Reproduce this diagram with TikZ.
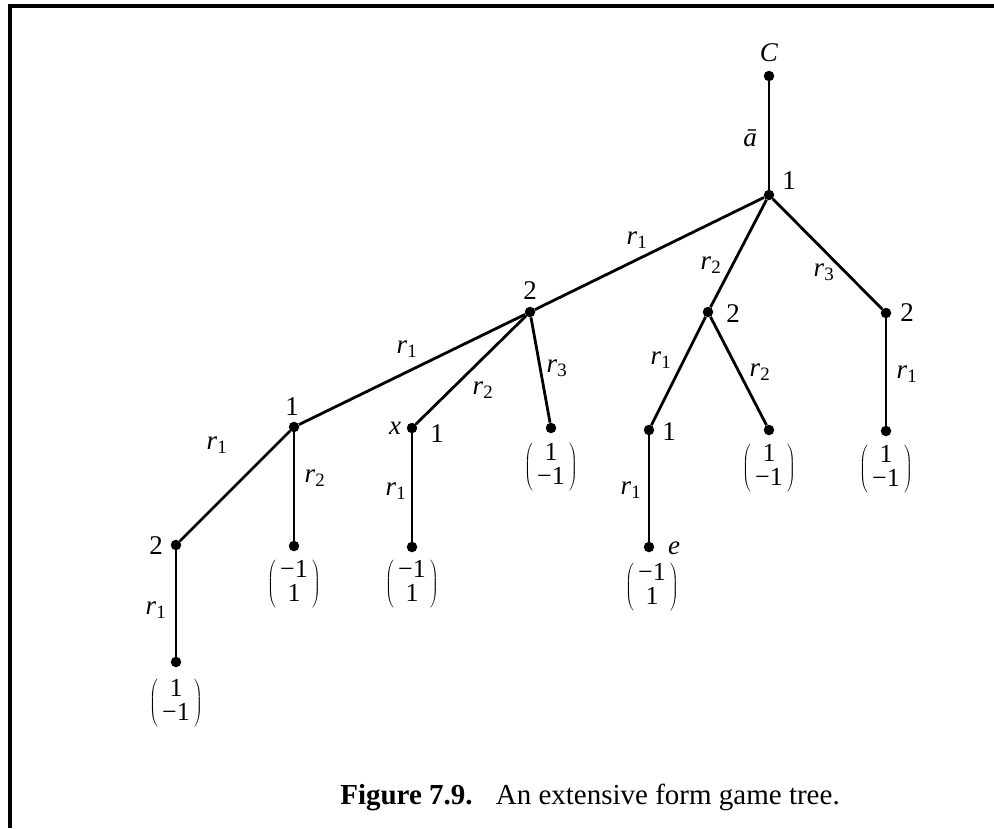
\documentclass[tikz,border=0pt]{standalone}
\usepackage{fontspec}
\setmainfont{Liberation Serif}
\newcommand\ract[1]{\textit{r}\textsubscript{#1}}
\newcommand\payoff[2]{$\left(\vcenter{\hbox{\begin{tabular}{@{\,}c@{\,}}#1\\[-4pt]#2\end{tabular}}}\right)$}
\tikzset{
  dot/.style={circle,fill=black,inner sep=0pt,minimum size=10.5pt},
  edge/.style={line width=2.8pt},
  lbl/.style={font=\fontsize{27}{29}\selectfont,inner sep=0pt},
  pay/.style={font=\fontsize{26}{28}\selectfont,inner sep=0pt},
}
\begin{document}
\begin{tikzpicture}[x=1pt,y=-1pt]
\useasboundingbox (0,0) rectangle (994,828);
% frame
\draw[line width=4pt] (8,6) -- (994,6);
\draw[line width=3.5pt] (10,4) -- (10,828);
% nodes
\node[dot] (C) at (769,76) {};
\node[dot] (n1) at (769,195) {};
\node[dot] (a2) at (530,312) {};
\node[dot] (b2) at (708,312) {};
\node[dot] (c2) at (886,313) {};
\node[dot] (a1) at (294,427) {};
\node[dot] (x1) at (412,428) {};
\node[dot] (t1) at (551,428) {};
\node[dot] (c1) at (649,430) {};
\node[dot] (t2) at (769,430) {};
\node[dot] (t3) at (886,431) {};
\node[dot] (d2) at (176,545) {};
\node[dot] (t4) at (294,546) {};
\node[dot] (t5) at (412,547) {};
\node[dot] (e) at (649,547) {};
\node[dot] (t6) at (176,662) {};
% edges
\draw[edge] (C) -- (n1);
\draw[edge] (n1) -- (a2);
\draw[edge] (n1) -- (b2);
\draw[edge] (n1) -- (c2);
\draw[edge] (a2) -- (a1);
\draw[edge] (a2) -- (x1);
\draw[edge] (a2) -- (t1);
\draw[edge] (b2) -- (c1);
\draw[edge] (b2) -- (t2);
\draw[edge] (c2) -- (t3);
\draw[edge] (a1) -- (d2);
\draw[edge] (a1) -- (t4);
\draw[edge] (x1) -- (t5);
\draw[edge] (c1) -- (e);
\draw[edge] (d2) -- (t6);
% player labels
\node[lbl] (lC) at (769,53) {\textit{C}};
\node[lbl] (ln1) at (789,181) {1};
\node[lbl] (la2) at (530,291) {2};
\node[lbl] (lb2) at (733,314) {2};
\node[lbl] (lc2) at (907,313) {2};
\node[lbl] (la1) at (292,407) {1};
\node[lbl] (lx) at (395,428) {\textit{x}};
\node[lbl] (lx1) at (437,434) {1};
\node[lbl] (lc1) at (669,432) {1};
\node[lbl] (ld2) at (156,546) {2};
\node[lbl] (le) at (674,548) {\textit{e}};
% action labels
\node[lbl] (ea) at (750,138) {\textit{ā}};
\node[lbl] (e1) at (637,240) {\ract{1}};
\node[lbl] (e2) at (711,265) {\ract{2}};
\node[lbl] (e3) at (824,272) {\ract{3}};
\node[lbl] (e4) at (407,349) {\ract{1}};
\node[lbl] (e5) at (483,390) {\ract{2}};
\node[lbl] (e6) at (557,368) {\ract{3}};
\node[lbl] (e7) at (661,360) {\ract{1}};
\node[lbl] (e8) at (760,372) {\ract{2}};
\node[lbl] (e9) at (907,374) {\ract{1}};
\node[lbl] (e10) at (217,445) {\ract{1}};
\node[lbl] (e11) at (315,478) {\ract{2}};
\node[lbl] (e12) at (396,491) {\ract{1}};
\node[lbl] (e13) at (631,490) {\ract{1}};
\node[lbl] (e14) at (156,610) {\ract{1}};
% payoffs
\node[pay] (p1) at (551,467) {\payoff{1}{−1}};
\node[pay] (p2) at (769,468) {\payoff{1}{−1}};
\node[pay] (p3) at (886,469) {\payoff{1}{−1}};
\node[pay] (p4) at (294,584) {\payoff{−1}{1}};
\node[pay] (p5) at (412,584) {\payoff{−1}{1}};
\node[pay] (p6) at (652,587) {\payoff{−1}{1}};
\node[pay] (p7) at (176,703) {\payoff{1}{−1}};
% caption
\node[font=\fontsize{29}{31}\selectfont,inner sep=0pt] (cap) at (590,797) {\textbf{Figure 7.9.}\hspace{0.8em}An extensive form game tree.};
\end{tikzpicture}
\end{document}
